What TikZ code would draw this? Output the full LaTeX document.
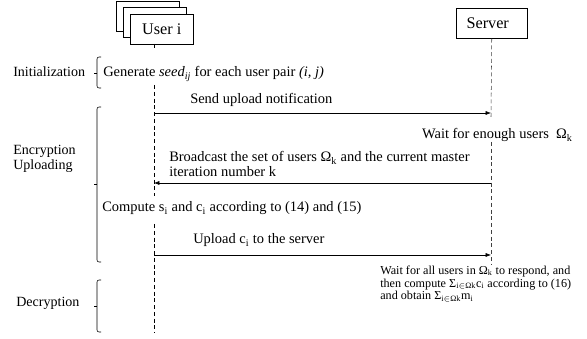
\documentclass[tikz,border=0pt]{standalone}
\usepackage{fontspec}
\setmainfont{Liberation Serif}
\usetikzlibrary{arrows.meta}

\begin{document}
\begin{tikzpicture}[x=0.74pt, y=-0.74pt,
    actor/.style={draw, thin, fill=white, minimum height=22.2pt, inner sep=0pt, font=\large},
    life/.style={densely dashed, thin},
    msg/.style={thin, -{Latex[length=4pt, width=3pt]}},
    phase/.style={thin, rounded corners=1.5pt},
    txt/.style={inner sep=0pt, anchor=base west, align=left, font=\fontsize{10.7}{11.1}\selectfont},
    phasetxt/.style={txt, font=\fontsize{10.4}{11.1}\selectfont},
    smalltxt/.style={txt, font=\fontsize{9}{9.6}\selectfont}]
\useasboundingbox (0,0) rectangle (587,339);

    % Actors
    \node[actor, minimum width=46.6pt, anchor=north west] (U3) at (116,1) {};
    \node[actor, minimum width=46.6pt, anchor=north west] (U2) at (123,7) {};
    \node[actor, minimum width=46.6pt, anchor=north west] (U1) at (130,14) {User i};
    \node[actor, minimum width=52.5pt, anchor=north west] (S) at (456,8) {\hspace*{-6pt}Server};

    % Lifelines
    \coordinate (uA) at (154,44);
    \coordinate (sA) at (S.south);
    \draw[life] (uA) -- (154,48);
    \draw[life] (154,85) -- (154,196);
    \draw[life] (154,224) -- (154,333);
    \draw[life, black!75] (sA) -- (491,117);
    \draw[life, black!75] (491,142) -- (491,264);

    % Phase brackets
    \draw[phase] (101,57) -- (97,57) -- (97,88) -- (101,88);
    \draw[phase] (97,73) -- (94,73);
    \draw[phase] (101,107) -- (97,107) -- (97,262) -- (101,262);
    \draw[phase] (97,184) -- (94,184);
    \draw[phase] (101,280) -- (97,280) -- (97,332) -- (101,332);
    \draw[phase] (97,306) -- (94,306);

    % Phase names (base = last line)
    \node[phasetxt] (init) at (13,77) {Initialization};
    \node[phasetxt] (enc) at (13,170) {Encryption\\Uploading};
    \node[phasetxt] (dec) at (16,307) {Decryption};

    % Messages
    \coordinate (uSend) at (154,113);
    \coordinate (sSend) at (491,113);
    \coordinate (sCast) at (491,183);
    \coordinate (uCast) at (154,183);
    \coordinate (uUp) at (154,255);
    \coordinate (sUp) at (491,255);
    \draw[msg] (uSend) -- (sSend);
    \draw[msg] (sCast) -- (uCast);
    \draw[msg] (uUp) -- (sUp);

    % Texts
    \node[txt] (gen) at (103,77) {Generate \textit{seed}\textsubscript{\textit{ij}} for each user pair \textit{(i, j)}};
    \node[txt] (send) at (190,104) {Send upload notification};
    \node[txt, anchor=base east] (wait) at (573,139) {Wait for enough users~~Ω\textsubscript{k}};
    \node[txt] (cast) at (169,177) {Broadcast the set of users Ω\textsubscript{k} and the current master\\iteration number k};
    \node[txt] (comp) at (102,212) {Compute s\textsubscript{i} and c\textsubscript{i} according to (14) and (15)};
    \node[txt] (up) at (193,244) {Upload c\textsubscript{i} to the server};
    \node[smalltxt] (agg) at (380,300) {Wait for all users in Ω\textsubscript{k} to respond, and\\then compute Σ\textsubscript{i$\in$Ωk}c\textsubscript{i} according to (16)\\and obtain Σ\textsubscript{i$\in$Ωk}m\textsubscript{i}};
\end{tikzpicture}
\end{document}
